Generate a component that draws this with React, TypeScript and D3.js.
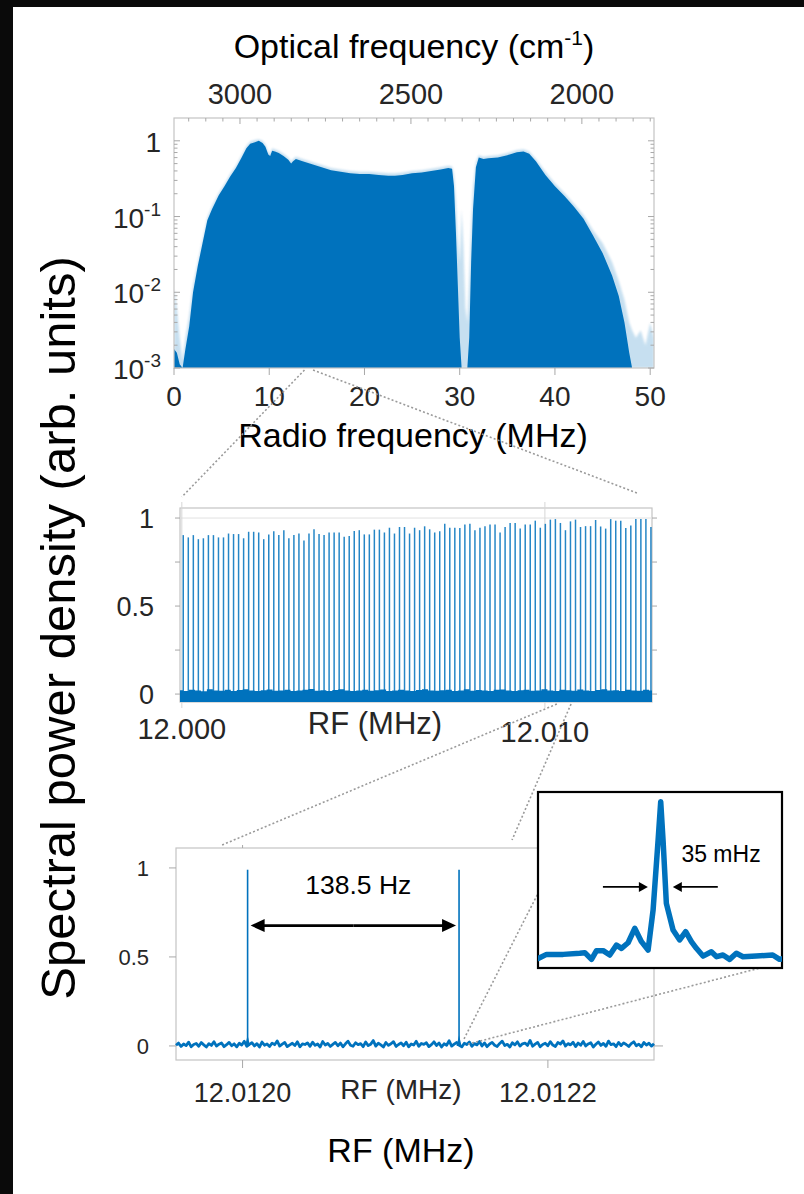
import React from "react";
import * as d3 from "d3";

const FONT = "'Liberation Sans', Arial, Helvetica, sans-serif";
const BLUE = "#0072BD";

// ---------- top panel data ----------
const rfTicks = [0, 10, 20, 30, 40, 50];
const opticalTicks = [3000, 2500, 2000];
const logTickExps = [-3, -2, -1, 0];
const topFreq = [0, 0.3, 0.6, 0.9, 1.2, 1.6, 2.0, 2.5, 3.0, 3.5, 4.0, 4.7, 5.3, 5.9, 6.5, 7.1, 7.6, 8.0, 8.5, 8.9, 9.3, 9.6, 9.9, 10.1, 10.3, 10.6, 11.0, 11.5, 12.0, 12.3, 12.5, 12.8, 13.5, 14.5, 15.5, 16.5, 17.5, 18.5, 19.5, 20.5, 21.5, 22.5, 23.2, 24.0, 25.0, 26.0, 27.0, 28.0, 28.8, 29.2, 29.4, 29.6, 29.8, 30.0, 30.2, 30.4, 30.6, 30.8, 31.0, 31.2, 31.4, 31.7, 32.0, 32.5, 33.0, 34.0, 35.0, 36.0, 36.7, 37.3, 38.0, 39.0, 40.0, 41.0, 42.0, 43.0, 44.0, 45.0, 46.0, 46.7, 47.3, 47.8, 48.1, 48.5, 49.0, 49.5, 50.0, 50.4];
const topEnvelopeLog = [-2.75, -2.8, -2.95, -3.0, -2.75, -2.45, -2.0, -1.65, -1.35, -1.05, -0.9, -0.72, -0.6, -0.47, -0.36, -0.22, -0.1, -0.04, -0.02, 0.0, -0.03, -0.08, -0.18, -0.2, -0.13, -0.14, -0.16, -0.2, -0.25, -0.3, -0.27, -0.24, -0.27, -0.31, -0.35, -0.39, -0.41, -0.43, -0.44, -0.44, -0.45, -0.46, -0.46, -0.45, -0.43, -0.42, -0.4, -0.38, -0.36, -0.37, -0.6, -1.2, -1.9, -2.6, -3.0, -3.0, -3.0, -3.0, -2.6, -1.6, -0.9, -0.35, -0.22, -0.24, -0.23, -0.22, -0.19, -0.15, -0.14, -0.17, -0.27, -0.45, -0.6, -0.73, -0.87, -1.03, -1.25, -1.48, -1.78, -2.05, -2.4, -2.8, -3.0, -3.0, -3.0, -3.0, -3.0, -3.0];
const topHaloLog = [-1.95, -2.2, -2.6, -2.9, -2.6, -2.3, -1.9, -1.6, -1.31, -1.01, -0.86, -0.69, -0.57, -0.44, -0.33, -0.19, -0.07, -0.01, 0.01, 0.02, 0.0, -0.05, -0.15, -0.17, -0.1, -0.11, -0.13, -0.17, -0.22, -0.27, -0.24, -0.21, -0.24, -0.28, -0.32, -0.36, -0.38, -0.4, -0.41, -0.41, -0.42, -0.43, -0.43, -0.42, -0.4, -0.39, -0.37, -0.35, -0.33, -0.34, -0.45, -0.8, -1.3, -1.6, -0.9, -1.4, -2.2, -2.4, -1.8, -1.1, -0.6, -0.28, -0.19, -0.21, -0.2, -0.19, -0.16, -0.12, -0.11, -0.14, -0.24, -0.41, -0.56, -0.69, -0.83, -0.98, -1.18, -1.35, -1.6, -1.85, -2.1, -2.4, -2.5, -2.6, -2.5, -2.7, -2.4, -2.6];

// ---------- middle panel data ----------
const midTickValues = [12.0, 12.01];
const midTickLabels = ["12.000", "12.010"];
const midYTicks = [0, 0.5, 1];
const midMinorYTicks = [0, 0.25, 0.5, 0.75, 1];
const combStartMHz = 12.00004;
const combSpacingMHz = 0.0001385;
const combHeights = [0.903, 0.89, 0.903, 0.88, 0.885, 0.903, 0.903, 0.89, 0.89, 0.912, 0.909, 0.909, 0.885, 0.922, 0.922, 0.918, 0.88, 0.907, 0.925, 0.903, 0.931, 0.885, 0.903, 0.912, 0.872, 0.912, 0.936, 0.909, 0.903, 0.918, 0.918, 0.918, 0.894, 0.898, 0.927, 0.931, 0.907, 0.907, 0.934, 0.934, 0.918, 0.945, 0.912, 0.949, 0.949, 0.912, 0.945, 0.931, 0.953, 0.936, 0.918, 0.925, 0.967, 0.945, 0.945, 0.943, 0.963, 0.967, 0.931, 0.945, 0.954, 0.963, 0.963, 0.918, 0.949, 0.972, 0.972, 0.94, 0.963, 0.963, 0.985, 0.945, 0.967, 0.991, 0.994, 0.972, 0.931, 0.981, 0.991, 0.949, 0.954, 0.954, 0.989, 0.952, 0.94, 0.994, 0.985, 0.985, 0.943, 0.958, 0.994, 0.994, 0.994, 0.949];
const midNoise = [0.022, 0.018, 0.025, 0.02, 0.016, 0.027, 0.021, 0.019, 0.024, 0.017, 0.023, 0.028, 0.02, 0.018, 0.022, 0.026, 0.019, 0.021, 0.025, 0.017, 0.02, 0.024, 0.029, 0.019, 0.022, 0.018, 0.023, 0.027, 0.02, 0.017, 0.021, 0.025, 0.019, 0.022, 0.026, 0.018, 0.02, 0.024, 0.021, 0.017, 0.023, 0.028, 0.02, 0.019, 0.022, 0.025, 0.018, 0.021, 0.027, 0.019, 0.023, 0.02, 0.017, 0.024, 0.026, 0.02, 0.018, 0.022, 0.025, 0.019, 0.021, 0.028, 0.02, 0.018, 0.024, 0.022, 0.019, 0.026, 0.021, 0.017, 0.023, 0.027, 0.02, 0.022, 0.018, 0.025, 0.021, 0.019, 0.024, 0.02];

// ---------- bottom panel data ----------
const botTickValues = [12.012, 12.0122];
const botTickLabels = ["12.0120", "12.0122"];
const botYTicks = [0, 0.5, 1];
const botPeakFreqs = [12.0120033, 12.0121418];
const botPeakHeights = [0.99, 0.99];
const peakSpacingLabel = "138.5 Hz";
const botNoise = [0.004, 0.016, -0.003, 0.011, 0.002, 0.021, -0.005, 0.008, 0.014, -0.002, 0.019, 0.006, -0.006, 0.013, 0.003, 0.024, -0.001, 0.01, 0.017, -0.004,
  0.007, 0.02, 0.001, 0.012, -0.005, 0.015, 0.005, 0.026, -0.002, 0.009, 0.018, 0.0, 0.013, -0.006, 0.022, 0.004, 0.011, -0.003, 0.016, 0.007,
  0.028, -0.001, 0.01, 0.019, -0.004, 0.006, 0.015, 0.002, 0.023, -0.005, 0.012, 0.008, 0.017, -0.002, 0.021, 0.003, 0.011, -0.006, 0.025, 0.005,
  0.014, -0.003, 0.009, 0.02, 0.001, 0.016, -0.005, 0.012, 0.027, 0.004, -0.002, 0.018, 0.007, 0.013, -0.004, 0.022, 0.002, 0.01, 0.03, -0.001,
  0.015, 0.006, -0.006, 0.019, 0.003, 0.012, 0.024, -0.003, 0.008, 0.017, 0.001, 0.021, -0.005, 0.011, 0.005, 0.026, -0.002, 0.014, 0.009, 0.018,
  -0.004, 0.007, 0.023, 0.002, 0.016, -0.006, 0.012, 0.004, 0.029, -0.001, 0.01, 0.019, 0.003, -0.005, 0.015, 0.008, 0.022, -0.002, 0.013, 0.006,
  0.025, 0.0, 0.017, -0.004, 0.011, 0.02, 0.004, -0.003, 0.014, 0.027, 0.002, 0.009, -0.006, 0.018, 0.006, 0.023, -0.001, 0.012, 0.016, 0.003,
  0.031, -0.002, 0.01, 0.02, -0.005, 0.008, 0.015, 0.001, 0.024, 0.005, -0.003, 0.019, 0.011, 0.028, -0.001, 0.013, 0.006, 0.021, -0.004, 0.016,
  0.004, 0.025, 0.0, 0.011, 0.018, -0.006, 0.009, 0.022, 0.003, 0.014, -0.002, 0.027, 0.007, 0.012, -0.004, 0.02, 0.002, 0.017, 0.008, -0.003,
  0.013, 0.023, 0.001, 0.01, -0.005, 0.019, 0.005, 0.015, -0.001, 0.012];

// ---------- inset data (offset from line centre in mHz, normalised amplitude) ----------
const insetOffset = [-171.7, -160, -136.7, -113.4, -106.4, -97, -90, -80.7, -71.4, -62, -55, -45.7, -36.4, -27, -17.7, -10.7, -3.7, 0, 3.3, 7.9, 17.3, 26.6, 35, 43, 50, 59.3, 71, 78.4, 87.3, 96.6, 106, 115.3, 134, 157, 166.6, 173.6];
const insetAmp = [-0.011, 0.015, 0.015, 0.022, 0.026, -0.017, 0.039, 0.039, 0.011, 0.075, 0.054, 0.09, 0.183, 0.097, 0.043, 0.3, 0.75, 1.0, 0.75, 0.344, 0.172, 0.108, 0.161, 0.097, 0.054, 0.004, 0.032, 0.0, 0.011, -0.017, 0.022, 0.0, 0.004, 0.011, -0.017, -0.011];
const linewidthLabel = "35 mHz";

const GRAY_BOX = "#c4c4c4";
const TICK = "#a8a8a8";
const LABEL = "#262626";
const DOT = "#9a9a9a";

function Arrow({ x1, x2, y, head = 13, half = 6, width = 2.2 }: any) {
  const dir = Math.sign(x2 - x1);
  return (
    <g>
      <line x1={x1} y1={y} x2={x2 - dir * head * 0.8} y2={y} stroke="#000" strokeWidth={width} />
      <path d={`M${x2},${y} L${x2 - dir * head},${y - half} L${x2 - dir * head},${y + half} Z`} fill="#000" />
    </g>
  );
}

export default function App() {
  // ---------- top panel ----------
  const tL = 174, tR = 654, tT = 118, tB = 368;
  const xTop = d3.scaleLinear().domain([0, 50.4]).range([tL, tR]);
  const yTop = d3.scaleLog().domain([1e-3, 2.0]).range([tB, tT]);
  const xOpt = d3.scaleLinear().domain([3193, 1789]).range([tL, tR]);
  const topData = topFreq.map((f, i) => ({ f, v: Math.pow(10, topEnvelopeLog[i]), h: Math.pow(10, topHaloLog[i]) }));
  const mainArea = d3.area<any>().x((d) => xTop(d.f)).y0(tB).y1((d) => yTop(Math.max(1e-3, d.v)))(topData) || "";
  const haloArea = d3.area<any>().x((d) => xTop(d.f)).y0(tB).y1((d) => yTop(Math.max(1e-3, d.h)))(topData) || "";
  const logMinor: number[] = [];
  for (const e of [-3, -2, -1, 0]) for (let m = 2; m <= 9; m++) { const v = m * Math.pow(10, e); if (v < 2.0) logMinor.push(v); }
  const optMinor = d3.range(1800, 3200, 50);

  // ---------- middle panel ----------
  const mL = 180, mR = 652, mT = 508, mB = 702;
  const xMid = d3.scaleLinear().domain([11.99995, 12.01295]).range([mL, mR]);
  const yMid = d3.scaleLinear().domain([-0.045, 1.057]).range([mB, mT]);
  const noiseStep = (12.01295 - 11.99995) / (midNoise.length - 1);
  const midNoiseArea = d3.area<number>().x((_, i) => xMid(11.99995 + i * noiseStep)).y0(yMid(-0.045)).y1((d) => yMid(d)).curve(d3.curveStep)(midNoise) || "";
  const combFreqs = combHeights.map((_, k) => combStartMHz + k * combSpacingMHz);

  // ---------- bottom panel ----------
  const bL = 176, bR = 654, bT = 848, bB = 1060;
  const xBot = d3.scaleLinear().domain([12.0119564, 12.0122695]).range([bL, bR]);
  const yBot = d3.scaleLinear().domain([-0.079, 1.112]).range([bB, bT]);
  const bStep = (12.0122695 - 12.0119564) / (botNoise.length - 1);
  const botNoiseLine = d3.line<number>().x((_, i) => xBot(12.0119564 + i * bStep)).y((d) => yBot(d))(botNoise) || "";

  // ---------- inset ----------
  const iL = 538, iR = 782, iT = 792, iB = 968;
  const xIn = d3.scaleLinear().domain([-172, 170]).range([iL, iR]);
  const yIn = d3.scaleLinear().domain([0, 1]).range([956.7, 801.7]);
  const insetLine = d3.line<number>().x((d) => xIn(d)).y((_, i) => yIn(insetAmp[i]))(insetOffset) || "";

  const p1 = xBot(botPeakFreqs[0]);
  const p2 = xBot(botPeakFreqs[1]);
  const arrowY = yBot(0.676);

  return (
    <svg width={804} height={1194} viewBox="0 0 804 1194" style={{ position: "absolute", left: 0, top: 0, background: "#fff" }} fontFamily={FONT}>
      <rect x={0} y={0} width={804} height={1194} fill="#fff" />
      <rect x={0} y={0} width={804} height={7} fill="#0a0a0a" />
      <rect x={0} y={0} width={13} height={1194} fill="#0a0a0a" />
      <defs>
        <clipPath id="clipTop"><rect x={tL} y={tT} width={tR - tL} height={tB - tT} /></clipPath>
        <clipPath id="clipIn"><rect x={iL} y={iT} width={iR - iL} height={iB - iT} /></clipPath>
        <filter id="soft"><feGaussianBlur stdDeviation="0.8" /></filter>
      </defs>

      {/* ===== top panel ===== */}
      <text x={414} y={58} textAnchor="middle" fontSize={34} fill="#000">
        Optical frequency (cm<tspan fontSize={21} dy={-13}>-1</tspan><tspan dy={13}>)</tspan>
      </text>
      {opticalTicks.map((v) => (
        <text key={v} x={xOpt(v)} y={104} textAnchor="middle" fontSize={29} fill={LABEL}>{v}</text>
      ))}
      <g clipPath="url(#clipTop)">
        <path d={haloArea} fill={BLUE} opacity={0.22} filter="url(#soft)" />
        <path d={mainArea} fill={BLUE} />
      </g>
      <rect x={tL} y={tT} width={tR - tL} height={tB - tT} fill="none" stroke={GRAY_BOX} strokeWidth={1.2} />
      {optMinor.map((v) => (
        <line key={v} x1={xOpt(v)} x2={xOpt(v)} y1={tT} y2={tT + (v % 500 === 0 ? 6 : 3.5)} stroke={TICK} strokeWidth={1} />
      ))}
      {logMinor.map((v) => (
        <g key={v}>
          <line x1={tL} x2={tL + 3.5} y1={yTop(v)} y2={yTop(v)} stroke={TICK} strokeWidth={1} />
          <line x1={tR} x2={tR - 3.5} y1={yTop(v)} y2={yTop(v)} stroke={TICK} strokeWidth={1} />
        </g>
      ))}
      {logTickExps.map((e) => (
        <g key={e}>
          <line x1={tL} x2={tL + 6} y1={yTop(Math.pow(10, e))} y2={yTop(Math.pow(10, e))} stroke={TICK} strokeWidth={1} />
          <line x1={tR} x2={tR - 6} y1={yTop(Math.pow(10, e))} y2={yTop(Math.pow(10, e))} stroke={TICK} strokeWidth={1} />
          {e === 0 ? (
            <text x={161} y={yTop(1) + 11} textAnchor="end" fontSize={28} fill={LABEL}>1</text>
          ) : (
            <text x={161} y={yTop(Math.pow(10, e)) + 11} textAnchor="end" fontSize={28} fill={LABEL}>
              10<tspan fontSize={19} dy={-12}>{`-${-e}`}</tspan>
            </text>
          )}
        </g>
      ))}
      {rfTicks.map((v) => (
        <g key={v}>
          <line x1={xTop(v)} x2={xTop(v)} y1={tB} y2={tB + 7} stroke={TICK} strokeWidth={1} />
          <text x={xTop(v)} y={406} textAnchor="middle" fontSize={28} fill={LABEL}>{v}</text>
        </g>
      ))}
      <text x={413} y={447} textAnchor="middle" fontSize={34} fill="#000">Radio frequency (MHz)</text>

      {/* ===== middle panel ===== */}
      <rect x={mL} y={mT} width={mR - mL} height={mB - mT} fill="#fff" stroke={GRAY_BOX} strokeWidth={1.2} />
      <line x1={mL} x2={mR} y1={yMid(1)} y2={yMid(1)} stroke="#e2e2e2" strokeWidth={1} />
      {midTickValues.map((v) => (
        <line key={v} x1={xMid(v)} x2={xMid(v)} y1={mT - 6} y2={mB + 6} stroke="#d6d6d6" strokeWidth={1} />
      ))}
      <path d={midNoiseArea} fill={BLUE} />
      {combFreqs.map((f, k) => (
        <line key={k} x1={xMid(f)} x2={xMid(f)} y1={yMid(0)} y2={yMid(combHeights[k])} stroke={BLUE} strokeWidth={1.5} opacity={0.85} />
      ))}
      {midMinorYTicks.map((v) => (
        <g key={v}>
          <line x1={mL - 5} x2={mL} y1={yMid(v)} y2={yMid(v)} stroke={TICK} strokeWidth={1} />
          <line x1={mR} x2={mR + 5} y1={yMid(v)} y2={yMid(v)} stroke={TICK} strokeWidth={1} />
        </g>
      ))}
      {midYTicks.map((v) => (
        <text key={v} x={154} y={yMid(v) + 10} textAnchor="end" fontSize={27} fill={LABEL}>{v}</text>
      ))}
      {midTickValues.map((v, i) => (
        <text key={v} x={xMid(v)} y={739 + i * 3} textAnchor="middle" fontSize={29} fill={LABEL}>{midTickLabels[i]}</text>
      ))}
      <text x={375} y={734} textAnchor="middle" fontSize={31} fill={LABEL}>RF (MHz)</text>

      {/* ===== bottom panel ===== */}
      <rect x={bL} y={bT} width={bR - bL} height={bB - bT} fill="#fff" stroke={GRAY_BOX} strokeWidth={1.2} />
      {botTickValues.map((v) => (
        <g key={v}>
          <line x1={xBot(v)} x2={xBot(v)} y1={bB} y2={bB + 8} stroke={TICK} strokeWidth={1} />
          <line x1={xBot(v)} x2={xBot(v)} y1={bT - 3} y2={bT} stroke={TICK} strokeWidth={1} />
        </g>
      ))}
      {botYTicks.map((v) => (
        <g key={v}>
          <line x1={bL - 7} x2={bL} y1={yBot(v)} y2={yBot(v)} stroke={TICK} strokeWidth={1} />
          <line x1={bR} x2={bR + 9} y1={yBot(v)} y2={yBot(v)} stroke={TICK} strokeWidth={1} />
          <text x={149} y={yBot(v) + 8} textAnchor="end" fontSize={22} fill={LABEL}>{v}</text>
        </g>
      ))}
      <path d={botNoiseLine} fill="none" stroke={BLUE} strokeWidth={2.8} strokeLinejoin="round" />
      {botPeakFreqs.map((f, i) => (
        <g key={i}>
          <line x1={xBot(f)} x2={xBot(f)} y1={yBot(0.02)} y2={yBot(botPeakHeights[i])} stroke={BLUE} strokeWidth={1.6} />
          <path d={`M${xBot(f) - 2.5},${yBot(0.0)} L${xBot(f)},${yBot(0.06)} L${xBot(f) + 2.5},${yBot(0.0)} Z`} fill={BLUE} />
        </g>
      ))}
      <text x={(p1 + p2) / 2 + 5} y={894} textAnchor="middle" fontSize={26.5} fill="#000">{peakSpacingLabel}</text>
      <Arrow x1={(p1 + p2) / 2} x2={p1 + 3} y={arrowY} head={14} half={6.5} width={2.6} />
      <Arrow x1={(p1 + p2) / 2} x2={p2 - 3} y={arrowY} head={14} half={6.5} width={2.6} />
      {botTickValues.map((v, i) => (
        <text key={v} x={xBot(v)} y={1102} textAnchor="middle" fontSize={27} fill={LABEL}>{botTickLabels[i]}</text>
      ))}
      <text x={401} y={1099} textAnchor="middle" fontSize={28} fill={LABEL}>RF (MHz)</text>
      <text x={401} y={1162} textAnchor="middle" fontSize={34} fill="#000">RF (MHz)</text>

      {/* ===== connector dotted lines ===== */}
      <g stroke={DOT} strokeWidth={1.6} strokeDasharray="2,2.2" fill="none">
        <line x1={xTop(13.7)} y1={tB + 2} x2={xMid(12.0)} y2={497} />
        <line x1={xTop(14.6)} y1={tB + 2} x2={xMid(12.01254)} y2={493} />
        <line x1={xMid(12.01033)} y1={mB + 2} x2={xBot(12.0119865)} y2={845} />
        <line x1={xMid(12.01072)} y1={mB + 2} x2={xBot(12.0121765)} y2={840} />
        <line x1={p2 + 5} y1={yBot(0.04)} x2={560} y2={850} />
        <line x1={p2 + 9} y1={yBot(0.01)} x2={760} y2={iB} />
      </g>

      {/* ===== inset ===== */}
      <rect x={iL} y={iT} width={iR - iL} height={iB - iT} fill="#fff" stroke="#000" strokeWidth={2.2} />
      <g clipPath="url(#clipIn)">
        <path d={insetLine} fill="none" stroke={BLUE} strokeWidth={5.5} strokeLinejoin="round" strokeLinecap="round" />
      </g>
      <text x={xIn(29)} y={862} fontSize={23} fill="#000">{linewidthLabel}</text>
      <Arrow x1={xIn(-81)} x2={xIn(-18)} y={yIn(0.45)} head={9} half={5} width={1.8} />
      <Arrow x1={xIn(80)} x2={xIn(17)} y={yIn(0.45)} head={9} half={5} width={1.8} />

      {/* ===== shared y label ===== */}
      <text transform="translate(75,628) rotate(-90)" textAnchor="middle" fontSize={49} fill="#000">
        Spectral power density (arb. units)
      </text>
    </svg>
  );
}
